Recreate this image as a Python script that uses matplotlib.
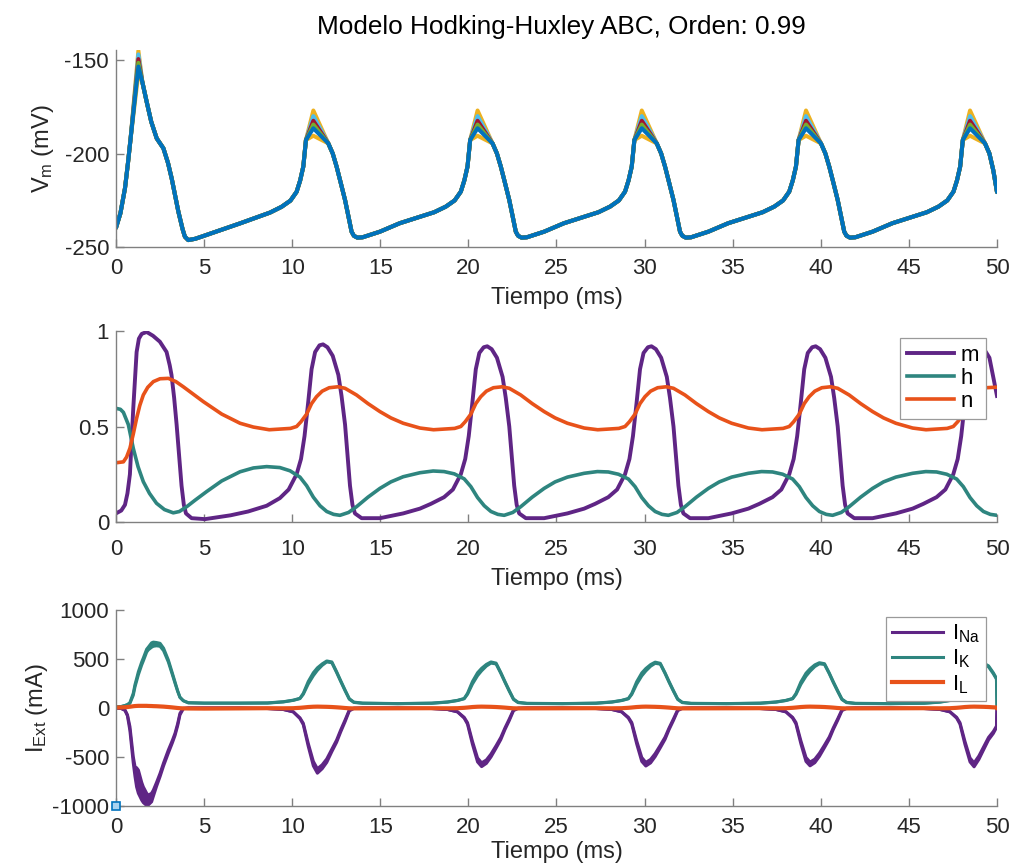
import numpy as np
import matplotlib
matplotlib.use("Agg")
import matplotlib.pyplot as plt

plt.rcParams['font.family'] = ['Liberation Sans', 'DejaVu Sans']
plt.rcParams['mathtext.fontset'] = 'custom'
plt.rcParams['mathtext.rm'] = 'Liberation Sans'
plt.rcParams['mathtext.it'] = 'Liberation Sans:italic'
plt.rcParams['mathtext.default'] = 'regular'
plt.rcParams['axes.unicode_minus'] = False

# ---------------- membrane potential (mV) ----------------
t_v = [0.00, 0.25, 0.51, 0.68, 0.83, 1.27, 1.50, 1.74, 2.00, 2.31, 2.69, 2.95, 3.16,
       3.54, 3.78, 3.91, 4.10, 4.50, 5.00, 7.03, 8.74, 9.40, 9.90, 10.25, 10.45,
       10.63, 10.78, 11.20, 12.05, 12.30, 12.52, 12.75, 13.00, 13.20, 13.37, 13.50,
       13.70, 14.00, 14.98, 16.10,
       18.06, 18.72, 19.22, 19.57, 19.77, 19.95, 20.10, 20.52, 21.37, 21.62, 21.84,
       22.07, 22.32, 22.52, 22.69, 22.82, 23.02, 23.32, 24.30, 25.42,
       27.38, 28.04, 28.54, 28.89, 29.09, 29.27, 29.42, 29.84, 30.69, 30.94, 31.16,
       31.39, 31.64, 31.84, 32.01, 32.14, 32.34, 32.64, 33.62, 34.74,
       36.70, 37.36, 37.86, 38.21, 38.41, 38.59, 38.74, 39.16, 40.01, 40.26, 40.48,
       40.71, 40.96, 41.16, 41.33, 41.46, 41.66, 41.96, 42.94, 44.06,
       46.02, 46.68, 47.18, 47.53, 47.73, 47.91, 48.06, 48.47, 49.32, 49.57, 49.79,
       50.00]
v_base = [-239.7, -232.0, -218.6, -205.0, -191.9, -153.5, -162.0, -172.3, -183.0,
          -191.9, -197.2, -205.0, -213.3, -231.1, -240.5, -244.5, -246.3, -245.6,
          -244.0, -237.4, -231.6, -228.5, -225.2, -220.5, -214.5, -207.0, -192.8,
          -186.5, -194.6, -200.0, -207.0, -215.5, -224.9, -234.0, -241.8, -244.0,
          -245.0, -244.8, -241.8, -237.3,
          -231.4, -228.4, -225.1, -220.4, -214.4, -207.0, -192.8, -186.5, -194.6,
          -200.0, -207.0, -215.5, -224.9, -234.0, -241.8, -244.0, -245.0, -244.8,
          -241.8, -237.3,
          -231.4, -228.4, -225.1, -220.4, -214.4, -207.0, -192.8, -186.5, -194.6,
          -200.0, -207.0, -215.5, -224.9, -234.0, -241.8, -244.0, -245.0, -244.8,
          -241.8, -237.3,
          -231.4, -228.4, -225.1, -220.4, -214.4, -207.0, -192.8, -186.5, -194.6,
          -200.0, -207.0, -215.5, -224.9, -234.0, -241.8, -244.0, -245.0, -244.8,
          -241.8, -237.3,
          -231.4, -228.4, -225.1, -220.4, -214.4, -207.0, -192.8, -186.5, -194.6,
          -200.0, -209.0, -220.6]

spike_times = [1.27, 11.20, 20.52, 29.84, 39.16, 48.47]
# peak potential of each run of the fractional solver, one value per spike
peaks_yellow_hi = [-145.0, -177.0, -177.0, -177.0, -177.0, -177.0]
peaks_yellow_lo = [-157.0, -190.5, -190.5, -190.5, -190.5, -190.5]
peaks_lightblue = [-147.0, -180.0, -180.0, -180.0, -180.0, -180.0]
peaks_red = [-149.5, -182.5, -182.5, -182.5, -182.5, -182.5]
peaks_green = [-151.5, -184.5, -184.5, -184.5, -184.5, -184.5]
peaks_blue = [-153.5, -186.5, -186.5, -186.5, -186.5, -186.5]

# ---------------- gating variables ----------------
t_m = [0.00, 0.30, 0.51, 0.65, 0.79, 0.98, 1.17, 1.30, 1.46, 1.74, 2.10, 2.49, 2.87,
       3.05, 3.15, 3.30, 3.44, 3.72, 3.85, 3.97, 4.29, 5.05, 6.50, 7.50,
       8.55, 9.30, 9.80, 10.25, 10.50, 10.70, 10.90, 11.10, 11.30, 11.55, 11.75,
       12.00, 12.30, 12.62, 12.80, 13.00, 13.28, 13.42, 13.56, 13.94, 14.98, 16.30,
       17.25,
       17.87, 18.62, 19.12, 19.57, 19.82, 20.02, 20.22, 20.42, 20.62, 20.87, 21.07,
       21.32, 21.62, 21.94, 22.12, 22.32, 22.60, 22.74, 22.88, 23.26, 24.30, 25.62,
       26.57,
       27.19, 27.94, 28.44, 28.89, 29.14, 29.34, 29.54, 29.74, 29.94, 30.19, 30.39,
       30.64, 30.94, 31.26, 31.44, 31.64, 31.92, 32.06, 32.20, 32.58, 33.62, 34.94,
       35.89,
       36.51, 37.26, 37.76, 38.21, 38.46, 38.66, 38.86, 39.06, 39.26, 39.51, 39.71,
       39.96, 40.26, 40.58, 40.76, 40.96, 41.24, 41.38, 41.52, 41.90, 42.94, 44.26,
       45.21,
       45.82, 46.57, 47.07, 47.52, 47.77, 47.97, 48.17, 48.37, 48.57, 48.82, 49.02,
       49.27, 49.57, 50.00]
m_val = [0.045, 0.06, 0.09, 0.15, 0.25, 0.595, 0.89, 0.96, 0.985, 0.995, 0.975, 0.944,
         0.89, 0.82, 0.77, 0.65, 0.51, 0.19, 0.09, 0.045, 0.02, 0.015, 0.035, 0.055,
         0.085, 0.125, 0.17, 0.25, 0.33, 0.45, 0.62, 0.80, 0.89, 0.925, 0.93, 0.915,
         0.87, 0.77, 0.66, 0.51, 0.19, 0.09, 0.045, 0.02, 0.02, 0.045, 0.07,
         0.095, 0.13, 0.17, 0.25, 0.33, 0.45, 0.62, 0.80, 0.885, 0.915, 0.92, 0.905,
         0.86, 0.76, 0.65, 0.50, 0.19, 0.09, 0.045, 0.02, 0.02, 0.045, 0.07,
         0.095, 0.13, 0.17, 0.25, 0.33, 0.45, 0.62, 0.80, 0.885, 0.915, 0.92, 0.905,
         0.86, 0.76, 0.65, 0.50, 0.19, 0.09, 0.045, 0.02, 0.02, 0.045, 0.07,
         0.095, 0.13, 0.17, 0.25, 0.33, 0.45, 0.62, 0.80, 0.885, 0.915, 0.92, 0.905,
         0.86, 0.76, 0.65, 0.50, 0.19, 0.09, 0.045, 0.02, 0.02, 0.045, 0.07,
         0.095, 0.13, 0.17, 0.25, 0.33, 0.45, 0.62, 0.80, 0.885, 0.915, 0.92, 0.905,
         0.86, 0.66]

t_h = [0.00, 0.25, 0.42, 0.70, 0.98, 1.25, 1.55, 1.90, 2.30, 2.75, 3.25, 3.60, 4.01,
       4.50, 5.14, 6.00, 7.04, 7.80, 8.55,
       9.30, 9.88, 10.44, 10.82, 11.20, 11.58, 11.96, 12.35, 12.71, 13.20, 13.65,
       14.30, 14.98, 15.60, 16.30, 17.25, 18.00,
       18.62, 19.20, 19.76, 20.14, 20.52, 20.90, 21.28, 21.67, 22.03, 22.52, 22.97,
       23.62, 24.30, 24.92, 25.62, 26.57, 27.32,
       27.94, 28.52, 29.08, 29.46, 29.84, 30.22, 30.60, 30.99, 31.35, 31.84, 32.29,
       32.94, 33.62, 34.24, 34.94, 35.89, 36.64,
       37.26, 37.84, 38.40, 38.78, 39.16, 39.54, 39.92, 40.31, 40.67, 41.16, 41.61,
       42.26, 42.94, 43.56, 44.26, 45.21, 45.96,
       46.57, 47.15, 47.71, 48.09, 48.47, 48.85, 49.23, 49.62, 50.00]
h_val = [0.595, 0.59, 0.574, 0.51, 0.386, 0.29, 0.211, 0.15, 0.098, 0.065, 0.048,
         0.055, 0.08, 0.115, 0.159, 0.215, 0.263, 0.283, 0.29,
         0.285, 0.268, 0.235, 0.19, 0.13, 0.085, 0.055, 0.04, 0.035, 0.05, 0.08,
         0.13, 0.176, 0.21, 0.237, 0.258, 0.267,
         0.264, 0.252, 0.226, 0.185, 0.128, 0.085, 0.055, 0.04, 0.035, 0.05, 0.08,
         0.13, 0.176, 0.21, 0.235, 0.255, 0.264,
         0.262, 0.25, 0.225, 0.185, 0.128, 0.085, 0.055, 0.04, 0.035, 0.05, 0.08,
         0.13, 0.176, 0.21, 0.235, 0.255, 0.264,
         0.262, 0.25, 0.225, 0.185, 0.128, 0.085, 0.055, 0.04, 0.035, 0.05, 0.08,
         0.13, 0.176, 0.21, 0.235, 0.255, 0.264,
         0.262, 0.25, 0.225, 0.185, 0.128, 0.085, 0.055, 0.04, 0.035]

t_n = [0.00, 0.42, 0.60, 0.79, 0.98, 1.17, 1.35, 1.55, 1.80, 2.12, 2.50, 2.97, 3.40,
       3.82, 4.96, 6.00, 7.04, 7.80, 8.70,
       9.90, 10.25, 10.50, 10.82, 11.10, 11.38, 11.70, 12.10, 12.60, 13.00, 13.65,
       14.30, 14.98, 15.60, 16.30, 17.25,
       18.02, 19.22, 19.57, 19.82, 20.14, 20.42, 20.70, 21.02, 21.42, 21.92, 22.32,
       22.97, 23.62, 24.30, 24.92, 25.62, 26.57,
       27.34, 28.54, 28.89, 29.14, 29.46, 29.74, 30.02, 30.34, 30.74, 31.24, 31.64,
       32.29, 32.94, 33.62, 34.24, 34.94, 35.89,
       36.66, 37.86, 38.21, 38.46, 38.78, 39.06, 39.34, 39.66, 40.06, 40.56, 40.96,
       41.61, 42.26, 42.94, 43.56, 44.26, 45.21,
       45.97, 47.17, 47.52, 47.77, 48.09, 48.37, 48.65, 48.97, 49.37, 50.00]
n_val = [0.31, 0.315, 0.34, 0.386, 0.46, 0.543, 0.61, 0.665, 0.705, 0.735, 0.75,
         0.752, 0.735, 0.708, 0.63, 0.565, 0.517, 0.497, 0.483,
         0.49, 0.50, 0.525, 0.565, 0.62, 0.656, 0.685, 0.703, 0.708, 0.70, 0.665,
         0.62, 0.578, 0.545, 0.517, 0.492,
         0.483, 0.49, 0.50, 0.525, 0.565, 0.62, 0.656, 0.685, 0.703, 0.708, 0.70,
         0.665, 0.62, 0.578, 0.545, 0.517, 0.492,
         0.483, 0.49, 0.50, 0.525, 0.565, 0.62, 0.656, 0.685, 0.703, 0.708, 0.70,
         0.665, 0.62, 0.578, 0.545, 0.517, 0.492,
         0.483, 0.49, 0.50, 0.525, 0.565, 0.62, 0.656, 0.685, 0.703, 0.708, 0.70,
         0.665, 0.62, 0.578, 0.545, 0.517, 0.492,
         0.483, 0.49, 0.50, 0.525, 0.565, 0.62, 0.656, 0.685, 0.703, 0.706]

# ---------------- ionic currents (mA) ----------------
t_i = [0.00, 0.30, 0.51, 0.65, 0.79, 0.98, 1.08, 1.17, 1.27, 1.46, 1.55, 1.74, 1.83,
       2.02, 2.12, 2.30, 2.50, 2.70, 2.97, 3.20, 3.35, 3.50, 3.63, 3.82, 4.10, 5.00,
       7.00,
       8.60, 9.50, 10.06, 10.44, 10.63, 10.91, 11.20, 11.43, 11.70, 11.96, 12.25,
       12.52, 12.75, 13.00, 13.24, 13.50, 14.00, 16.00,
       17.92, 18.82, 19.38, 19.76, 19.95, 20.23, 20.52, 20.75, 21.02, 21.28, 21.57,
       21.84, 22.07, 22.32, 22.56, 22.82, 23.32, 25.32,
       27.24, 28.14, 28.70, 29.08, 29.27, 29.55, 29.84, 30.07, 30.34, 30.60, 30.89,
       31.16, 31.39, 31.64, 31.88, 32.14, 32.64, 34.64,
       36.56, 37.46, 38.02, 38.40, 38.59, 38.87, 39.16, 39.39, 39.66, 39.92, 40.21,
       40.48, 40.71, 40.96, 41.20, 41.46, 41.96, 43.96,
       45.87, 46.77, 47.33, 47.71, 47.90, 48.18, 48.47, 48.70, 48.97, 49.23, 49.52,
       49.79, 49.97, 50.00]
i_na_upper = [0, -5, -20, -70, -190, -497, -600, -610, -634, -760, -805, -870, -890,
              -870, -838, -760, -667, -560, -429, -330, -258, -160, -54, -3, 0, 0, 0,
              -5, -15, -38, -100, -156, -361, -545, -620, -580, -520, -420, -327, -225,
              -123, -20, -2, 0, 0,
              -5, -15, -38, -95, -150, -340, -510, -560, -530, -470, -385, -300, -205,
              -112, -18, -2, 0, 0,
              -5, -15, -38, -95, -148, -335, -505, -555, -525, -465, -380, -298, -203,
              -110, -18, -2, 0, 0,
              -5, -15, -38, -95, -148, -335, -505, -552, -522, -462, -378, -296, -202,
              -110, -18, -2, 0, 0,
              -5, -15, -38, -95, -150, -340, -510, -560, -490, -400, -300, -240, -185, 0]
i_na_lower = [0, -5, -25, -80, -230, -560, -700, -805, -870, -940, -965, -995, -990,
              -957, -900, -800, -700, -590, -460, -355, -280, -180, -70, -8, 0, 0, 0,
              -5, -15, -40, -108, -170, -390, -590, -665, -620, -555, -445, -350, -245,
              -140, -30, -4, 0, 0,
              -5, -15, -40, -103, -165, -370, -550, -598, -565, -500, -410, -322, -222,
              -128, -27, -4, 0, 0,
              -5, -15, -40, -103, -163, -365, -545, -592, -560, -496, -406, -320, -220,
              -126, -27, -4, 0, 0,
              -5, -15, -40, -103, -163, -365, -545, -590, -558, -494, -404, -318, -219,
              -125, -27, -4, 0, 0,
              -5, -15, -40, -103, -165, -370, -550, -600, -525, -430, -325, -260, -200, 0]
i_k_upper = [10, 15, 25, 35, 55, 150, 240, 300, 370, 470, 510, 600, 620, 665, 672, 668,
             660, 610, 490, 355, 265, 175, 110, 75, 54, 50, 50,
             52, 64, 80, 99, 150, 270, 360, 410, 450, 480, 470, 371, 280, 184, 95, 60,
             50, 45,
             50, 62, 78, 97, 150, 270, 360, 405, 445, 470, 458, 362, 272, 178, 92, 58,
             48, 45,
             50, 62, 78, 97, 148, 268, 358, 403, 443, 468, 456, 360, 270, 177, 92, 58,
             48, 45,
             50, 62, 78, 97, 148, 266, 355, 400, 440, 462, 452, 358, 268, 176, 91, 58,
             48, 45,
             50, 62, 78, 97, 150, 270, 355, 400, 440, 460, 430, 360, 303, 0]
i_k_lower = [10, 15, 25, 33, 48, 130, 218, 275, 340, 440, 480, 570, 593, 620, 630, 635,
             630, 585, 470, 340, 253, 170, 108, 74, 53, 49, 49,
             50, 62, 78, 96, 140, 245, 330, 385, 435, 470, 462, 362, 272, 176, 90, 57,
             48, 44,
             48, 60, 76, 94, 140, 245, 330, 380, 428, 458, 450, 354, 264, 171, 87, 55,
             46, 44,
             48, 60, 76, 94, 138, 243, 328, 378, 426, 456, 448, 352, 262, 170, 87, 55,
             46, 44,
             48, 60, 76, 94, 138, 242, 325, 375, 423, 451, 444, 350, 260, 169, 86, 55,
             46, 44,
             48, 60, 76, 94, 140, 245, 325, 375, 420, 447, 420, 350, 295, 0]
i_l = [5, 6, 8, 10, 13, 18, 20, 21, 22, 22, 22, 22, 21, 20, 19, 18, 16, 14, 10, 6, 3,
       0, -2, -4, -5, -6, -4,
       -2, -3, -2, 2, 5, 10, 13, 14, 13, 12, 10, 7, 4, 0, -3, -4, -4, -3,
       -2, -3, -2, 2, 5, 10, 13, 14, 13, 12, 10, 7, 4, 0, -3, -4, -4, -3,
       -2, -3, -2, 2, 5, 10, 13, 14, 13, 12, 10, 7, 4, 0, -3, -4, -4, -3,
       -2, -3, -2, 2, 5, 10, 13, 14, 13, 12, 10, 7, 4, 0, -3, -4, -4, -3,
       -2, -3, -2, 2, 5, 10, 13, 14, 13, 12, 10, 7, 5, 0]

x_ticks = [0, 5, 10, 15, 20, 25, 30, 35, 40, 45, 50]

# ---------------- styling ----------------
C_PURPLE = '#5f2585'
C_TEAL = '#2e857f'
C_ORANGE = '#e8521a'
AX_COLOR = '#808080'
TXT_COLOR = '#262626'
TICK_FS = 16
LABEL_FS = 17

fig = plt.figure(figsize=(10.17, 8.66), dpi=100)
fig.patch.set_facecolor('white')

ax_v = fig.add_axes([0.11406, 0.71478, 0.86627, 0.22748])
ax_g = fig.add_axes([0.11406, 0.39723, 0.86627, 0.22055])
ax_i = fig.add_axes([0.11406, 0.06928, 0.86627, 0.22633])


def style_axis(ax, xpad=8, labelpad=6):
    for side in ('top', 'right'):
        ax.spines[side].set_visible(False)
    for side in ('left', 'bottom'):
        ax.spines[side].set_color(AX_COLOR)
        ax.spines[side].set_linewidth(1.0)
    ax.tick_params(direction='in', length=6, width=1.0, color=AX_COLOR,
                   labelcolor=TXT_COLOR, labelsize=TICK_FS)
    ax.tick_params(axis='x', pad=xpad)
    ax.tick_params(axis='y', pad=5)
    ax.set_xlim(0, 50)
    ax.set_xticks(x_ticks)
    ax.set_xticklabels([str(v) for v in x_ticks])
    ax.set_xlabel('Tiempo (ms)', fontsize=LABEL_FS, color=TXT_COLOR,
                  labelpad=labelpad)


# --- membrane potential, one trace per solver run ---
t_arr = np.array(t_v)
peak_idx = [int(np.argmin(np.abs(t_arr - ts))) for ts in spike_times]


def trace_with_peaks(peaks):
    v = np.array(v_base, dtype=float)
    v[peak_idx] = peaks
    return v


runs = [('#EDB120', peaks_yellow_hi), ('#EDB120', peaks_yellow_lo),
        ('#4DBEEE', peaks_lightblue), ('#A2142F', peaks_red),
        ('#77AC30', peaks_green), ('#0072BD', peaks_blue)]
for color, pk in runs:
    ax_v.plot(t_arr, trace_with_peaks(pk), color=color, lw=2.9,
              solid_joinstyle='round', solid_capstyle='round')

style_axis(ax_v)
ax_v.set_ylim(-250, -144.65)
ax_v.set_yticks([-250, -200, -150])
ax_v.set_yticklabels(['-250', '-200', '-150'])
ax_v.set_ylabel('V$_{m}$ (mV)', fontsize=LABEL_FS, color=TXT_COLOR)
ax_v.yaxis.set_label_coords(-0.068, 0.5)
fig.text(561 / 1017, 1 - 27 / 866, 'Modelo Hodking-Huxley ABC, Orden: 0.99',
         ha='center', va='center', fontsize=18.8, color='black')

# --- gating variables ---
ax_g.plot(t_m, m_val, color=C_PURPLE, lw=2.8, label='m', solid_joinstyle='round')
ax_g.plot(t_h, h_val, color=C_TEAL, lw=2.6, label='h', solid_joinstyle='round')
ax_g.plot(t_n, n_val, color=C_ORANGE, lw=2.6, label='n', solid_joinstyle='round')
style_axis(ax_g, xpad=12, labelpad=6)
ax_g.set_ylim(0, 1)
ax_g.set_yticks([0, 0.5, 1])
ax_g.set_yticklabels(['0', '0.5', '1'])
leg = ax_g.legend(loc='upper right', bbox_to_anchor=(0.987, 0.963), fontsize=16,
                  handlelength=2.1, handletextpad=0.3, labelspacing=0.1,
                  borderpad=0.3, borderaxespad=0, fancybox=False,
                  edgecolor='#9a9a9a', framealpha=1)
leg.get_frame().set_linewidth(0.9)
for txt in leg.get_texts():
    txt.set_color('black')

# --- ionic currents ---
ax_i.fill_between(t_i, i_na_lower, i_na_upper, color=C_PURPLE, lw=0)
ax_i.plot(t_i, i_na_upper, color=C_PURPLE, lw=2.2, label='I$_{Na}$')
ax_i.plot(t_i, i_na_lower, color=C_PURPLE, lw=2.2)
ax_i.fill_between(t_i, i_k_lower, i_k_upper, color=C_TEAL, lw=0)
ax_i.plot(t_i, i_k_upper, color=C_TEAL, lw=2.2, label='I$_{K}$')
ax_i.plot(t_i, i_k_lower, color=C_TEAL, lw=2.2)
ax_i.plot(t_i, i_l, color=C_ORANGE, lw=3.0, label='I$_{L}$')
ax_i.plot([0], [-1000], marker='s', markersize=5.5, markerfacecolor='#a9d3f0',
          markeredgecolor='#0072BD', markeredgewidth=1.2, linestyle='none',
          clip_on=False, zorder=5)
style_axis(ax_i, xpad=8, labelpad=2)
ax_i.set_ylim(-1000, 1000)
ax_i.set_yticks([-1000, -500, 0, 500, 1000])
ax_i.set_yticklabels(['-1000', '-500', '0', '500', '1000'])
ax_i.set_ylabel('I$_{Ext}$ (mA)', fontsize=LABEL_FS, color=TXT_COLOR)
ax_i.yaxis.set_label_coords(-0.075, 0.5)
leg2 = ax_i.legend(loc='upper right', bbox_to_anchor=(0.987, 0.964), fontsize=16,
                   handlelength=2.3, handletextpad=0.4, labelspacing=0.12,
                   borderpad=0.25, borderaxespad=0, fancybox=False,
                   edgecolor='#9a9a9a', framealpha=1)
leg2.get_frame().set_linewidth(0.9)
for txt in leg2.get_texts():
    txt.set_color('black')

fig.savefig('out.png', dpi=100)
